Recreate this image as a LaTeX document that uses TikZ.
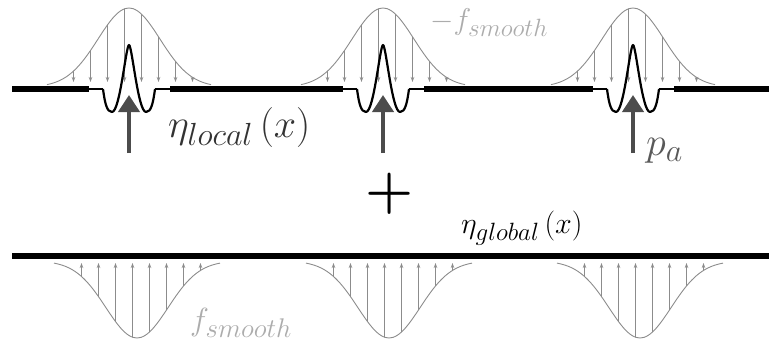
\RequirePackage{fix-cm}
\documentclass[tikz,border=0pt]{standalone}
\usetikzlibrary{arrows.meta}
\DeclareMathSizes{30}{30}{25}{20}
\DeclareMathSizes{32}{32}{27}{20}
\DeclareMathSizes{40}{40}{32}{24}
\DeclareMathSizes{55}{55}{44}{33}

\begin{document}
\begin{tikzpicture}[
  x=1pt, y=-1pt,
  curve/.style={gray!90, line width=0.9pt},
  load/.style={gray!90, line width=0.9pt, -{Stealth[length=5pt, width=3.5pt]}},
  beam/.style={line width=5.5pt},
  link/.style={line width=1.8pt},
  wave/.style={line width=2.2pt, line join=round},
  push/.style={black!70, line width=4pt, -{Triangle[length=17pt, width=21pt]}},
  lbl/.style={anchor=base west, inner sep=0pt},
  declare function={gtop(\u)=87-79*exp(-0.5*(\u/31)*(\u/31));
                    gbot(\u)=261+77*exp(-0.5*(\u/31)*(\u/31));}
]
  \useasboundingbox (0,0) rectangle (769,343);

  % local problem: smoothed load from above, point force from below
  \foreach \c in {129,383,633} {
    \draw[curve] plot[smooth, domain=-82:82, samples=41] ({\c+\x},{gtop(\x)});
    \foreach \k in {0,...,7} {
      \pgfmathsetmacro\u{4+17*(\k-3.5)}
      \draw[load] ({\c+\u},{gtop(\u)}) -- ({\c+\u},82);
    }
    \draw[link] (\c-40,89) -- (\c-26,89) (\c+26,89) -- (\c+41,89);
    \draw[wave] (\c-26,89) .. controls (\c-24,104) and (\c-22,112) .. (\c-17,112)
      .. controls (\c-9,112) and (\c-3,45) .. (\c,45)
      .. controls (\c+3,45) and (\c+9,112) .. (\c+17,112)
      .. controls (\c+22,112) and (\c+24,104) .. (\c+26,89);
    \draw[push] (\c,153) -- (\c,95);
  }
  \draw[beam] (12,89) -- (89,89) (170,89) -- (343,89)
    (424,89) -- (593,89) (674,89) -- (769,89);

  % global problem: smoothed load from below
  \foreach \c in {137,389,640} {
    \draw[curve] plot[smooth, domain=-83:83, samples=41] ({\c+\x},{gbot(\x)});
    \foreach \k in {0,...,7} {
      \pgfmathsetmacro\u{4+17*(\k-3.5)}
      \draw[load] ({\c+\u},{gbot(\u)}) -- ({\c+\u},263);
    }
  }
  \draw[beam, line width=6pt] (12,256) -- (769,256);

  \node[lbl, text=black!80, font=\fontsize{40}{44}\selectfont] (etaloc) at (168,137) {$\eta_{local}\left(x\right)$};
  \node[lbl, text=gray!65, font=\fontsize{30}{34}\selectfont] (negf) at (430,29) {$-f_{smooth}$};
  \node[lbl, text=black!65, font=\fontsize{40}{44}\selectfont] (pa) at (646,155) {$p_{a}$};
  \node[anchor=base, inner sep=0pt, font=\fontsize{55}{60}\selectfont\boldmath] (plus) at (389.5,207) {$+$};
  \node[lbl, font=\fontsize{30}{34}\selectfont] (etaglob) at (461,233) {$\eta_{global}\left(x\right)$};
  \node[lbl, text=gray!65, font=\fontsize{32}{36}\selectfont] (posf) at (190,330) {$f_{smooth}$};
\end{tikzpicture}
\end{document}
